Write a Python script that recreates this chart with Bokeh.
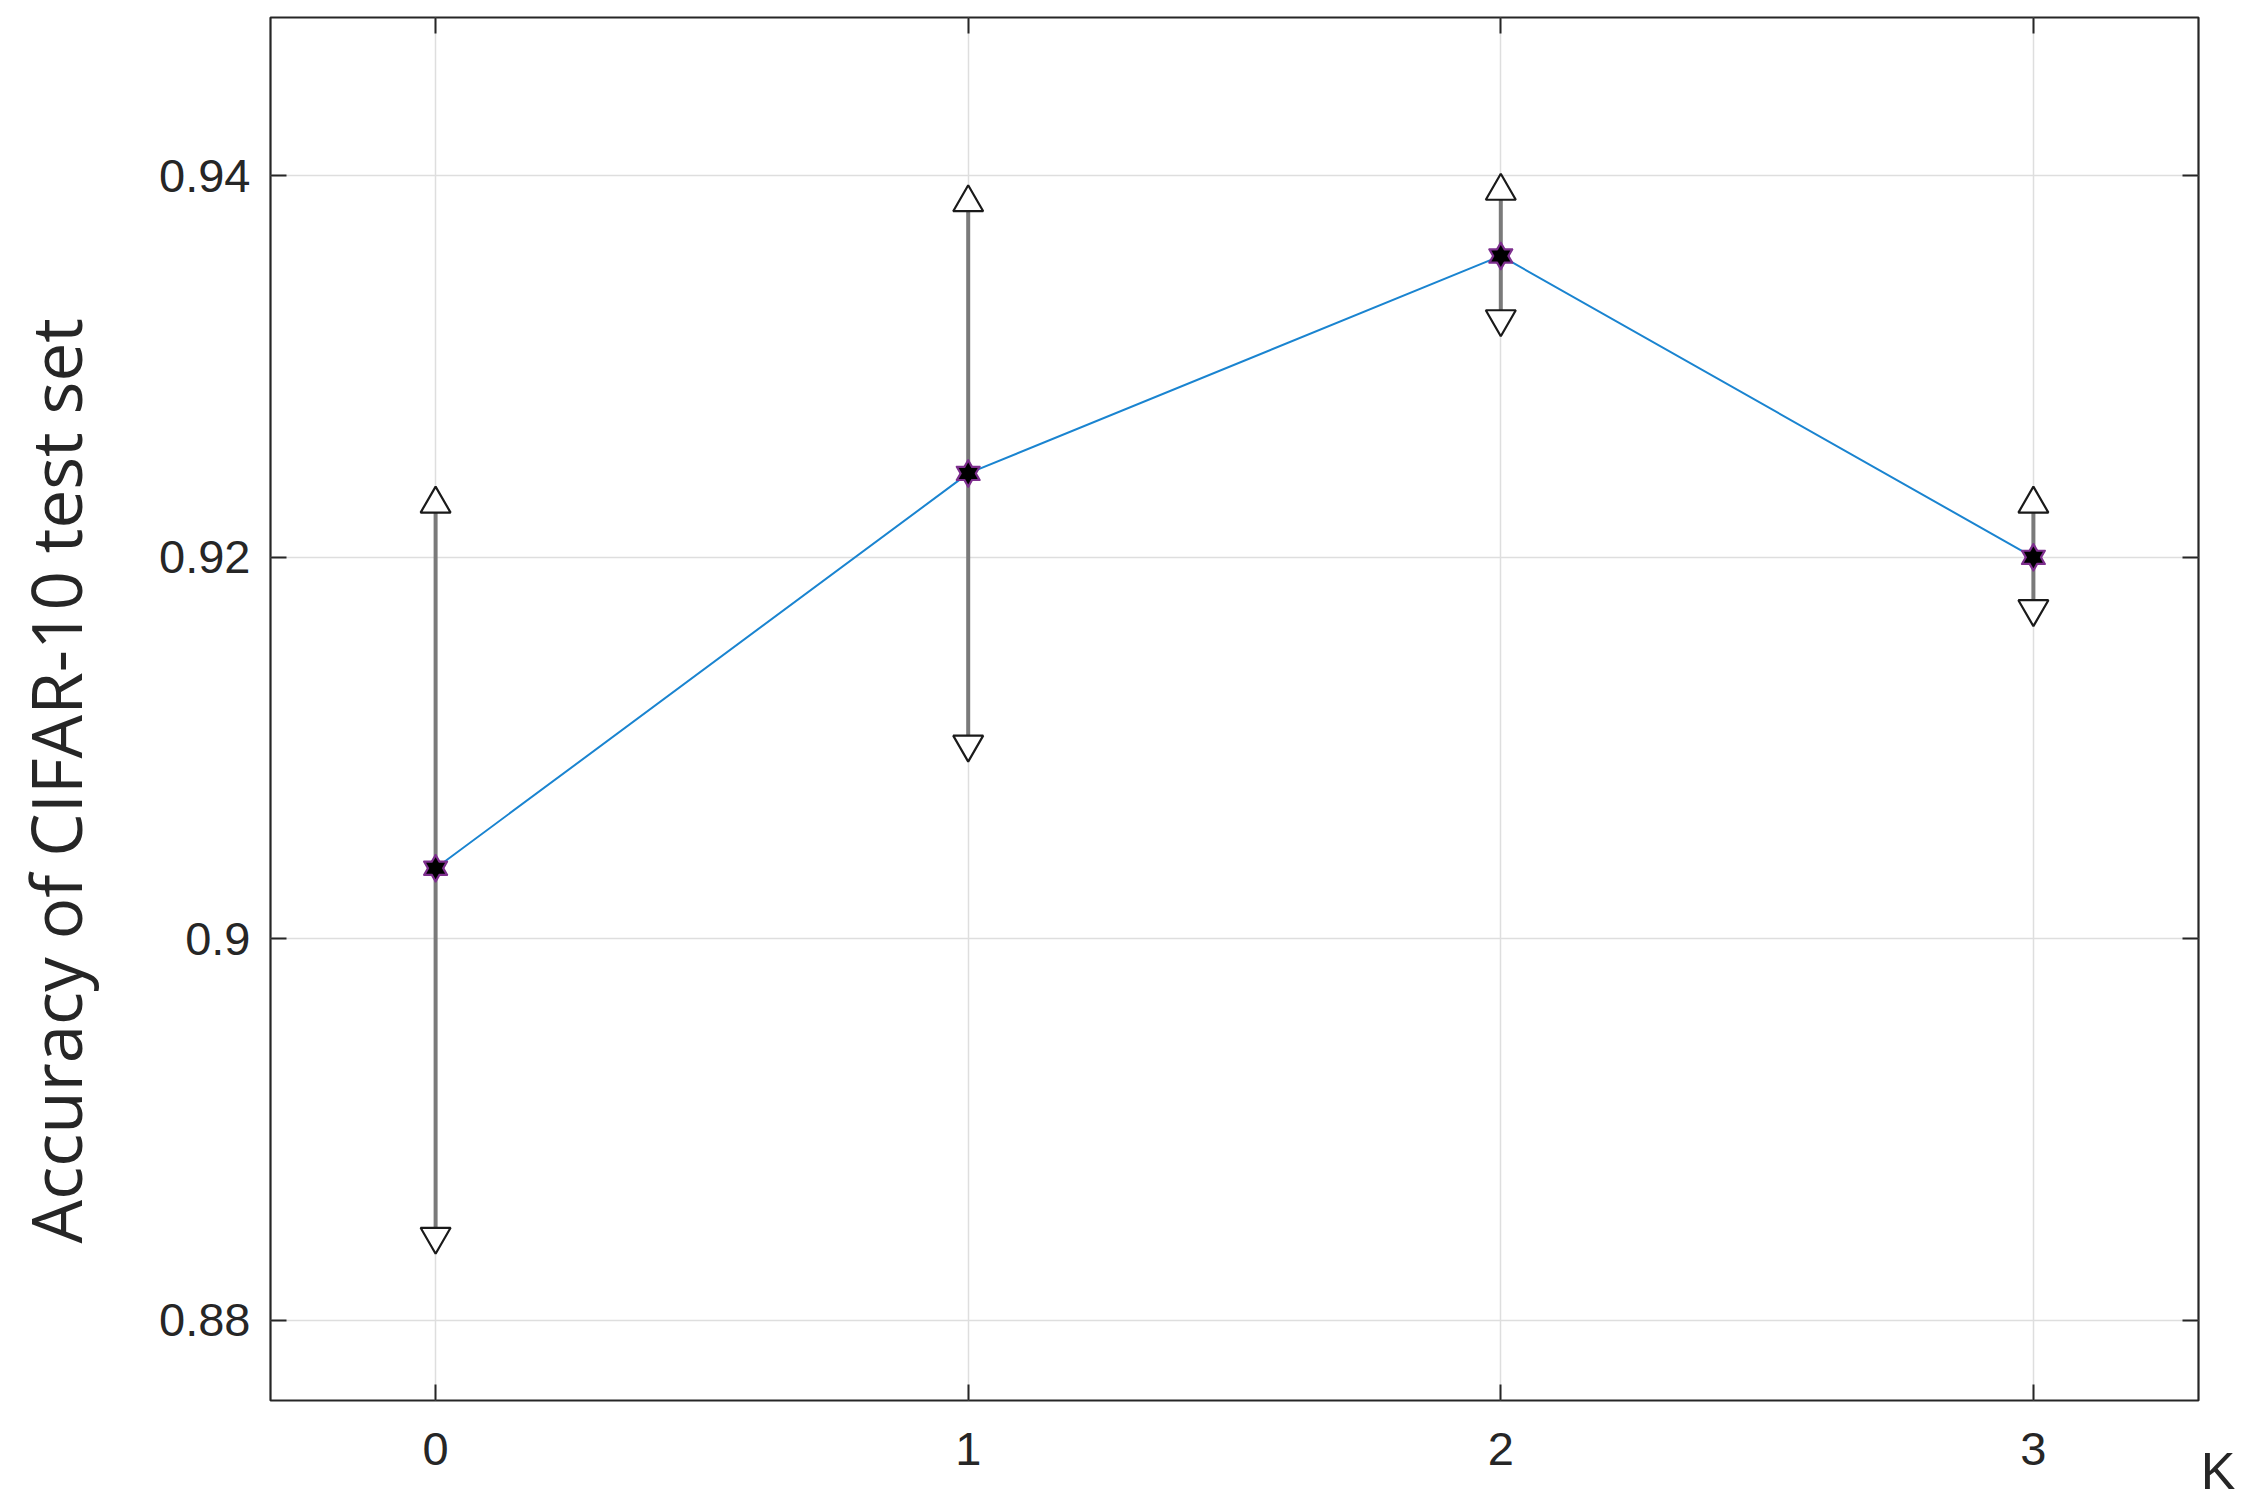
from bokeh.plotting import figure
from bokeh.models import FixedTicker, LinearAxis, Title, Range1d
from bokeh.embed import file_html
from bokeh.resources import INLINE

# ---- data ----
k_values = [0, 1, 2, 3]
acc_mean = [0.9037, 0.9244, 0.9358, 0.9200]
acc_upper = [0.9228, 0.9386, 0.9392, 0.9228]
acc_lower = [0.8844, 0.9102, 0.9325, 0.9173]
x_ticks = [0, 1, 2, 3]
y_ticks = [0.88, 0.90, 0.92, 0.94]
y_tick_labels = ["0.88", "0.9", "0.92", "0.94"]
y_title = "Accuracy of CIFAR-10 test set"
x_title = "K"

TICK_FONT = "Liberation Sans"
TEXT_COLOR = "#262626"

p = figure(width=2253, height=1506, output_backend="svg", toolbar_location=None,
           x_range=Range1d(-0.31, 3.31), y_range=Range1d(0.8758, 0.9483),
           min_border_left=270, min_border_right=55, min_border_top=17,
           min_border_bottom=106, background_fill_color="white",
           border_fill_color="white")

p.outline_line_color = "#262626"
p.outline_line_width = 2.2

p.xgrid.ticker = FixedTicker(ticks=x_ticks)
p.ygrid.ticker = FixedTicker(ticks=y_ticks)
for g in (p.xgrid, p.ygrid):
    g.grid_line_color = "#dedede"
    g.grid_line_width = 1.5

def style_axis(ax, ticks, show_labels, standoff):
    ax.ticker = FixedTicker(ticks=ticks)
    ax.axis_line_color = None
    ax.major_tick_in = 16
    ax.major_tick_out = 0
    ax.major_tick_line_color = "#262626"
    ax.major_tick_line_width = 2
    ax.minor_tick_line_color = None
    ax.major_label_text_font = TICK_FONT
    ax.major_label_text_color = TEXT_COLOR
    ax.major_label_text_font_size = "47px"
    ax.major_label_standoff = standoff
    if not show_labels:
        ax.major_label_text_font_size = "0px"
        ax.major_label_text_alpha = 0

xa = p.xaxis[0]
style_axis(xa, x_ticks, True, 32)
ya = p.yaxis[0]
style_axis(ya, y_ticks, True, 20)
ya.major_label_overrides = {t: s for t, s in zip(y_ticks, y_tick_labels)}

top_ax = LinearAxis()
style_axis(top_ax, x_ticks, False, 0)
p.add_layout(top_ax, "above")
right_ax = LinearAxis()
style_axis(right_ax, y_ticks, False, 0)
p.add_layout(right_ax, "right")

# invisible spacer between the y tick labels and the y title
spacer = LinearAxis(ticker=FixedTicker(ticks=[0.9]), axis_line_color=None,
                    major_tick_line_color="white", major_tick_line_width=1,
                    minor_tick_line_color=None,
                    major_tick_in=0, major_tick_out=55, minor_tick_out=0,
                    major_label_standoff=0, major_label_text_font_size="0px",
                    major_label_overrides={0.9: ""})
p.add_layout(spacer, "left")

# error bars
p.segment(x0=k_values, y0=acc_lower, x1=k_values, y1=acc_upper,
          line_color="#7a7a7a", line_width=4)
# mean line
p.line(k_values, acc_mean, line_color="#1a84d0", line_width=2)
# endpoint triangles
p.scatter(k_values, acc_upper, marker="triangle", size=30,
          fill_color="white", line_color="#1a1a1a", line_width=2.2)
p.scatter(k_values, acc_lower, marker="inverted_triangle", size=30,
          fill_color="white", line_color="#1a1a1a", line_width=2.2)
# hexagram markers (two overlapping triangles)
for mk in ("triangle", "inverted_triangle"):
    p.scatter(k_values, acc_mean, marker=mk, size=24,
              fill_color="#7E2F8E", line_color="#7E2F8E", line_width=1.5)
for mk in ("triangle", "inverted_triangle"):
    p.scatter(k_values, acc_mean, marker=mk, size=19,
              fill_color="black", line_color=None)

# axis titles
ytitle = Title(text=y_title, align="left", offset=157, standoff=0,
               text_font="Open Sans", text_font_size="69px",
               text_font_style="normal", text_color=TEXT_COLOR)
p.add_layout(ytitle, "left")
ktitle = Title(text=x_title, align="right", offset=-37, standoff=-64,
               text_font=TICK_FONT, text_font_size="52px",
               text_font_style="normal", text_color=TEXT_COLOR)
p.add_layout(ktitle, "below")

open("out.html", "w").write(file_html(p, INLINE))
